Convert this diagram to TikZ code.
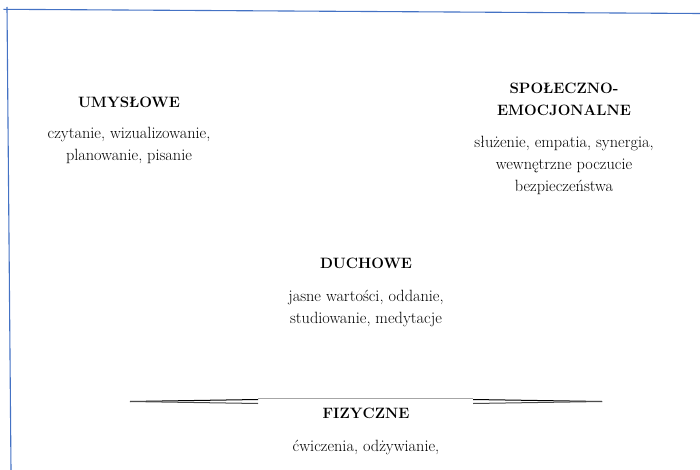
\documentclass[tikz,border=0pt]{standalone}
\usepackage{fontspec}
\definecolor{edgeblue}{HTML}{4472C4}
\tikzset{
  headtext/.style={align=center,inner sep=0pt,font=\fontsize{15}{22}\selectfont\bfseries},
  bodytext/.style={align=center,inner sep=0pt,font=\fontsize{16.3}{22}\selectfont},
}
\begin{document}
\begin{tikzpicture}[x=1pt,y=-1pt]
\useasboundingbox (0,0) rectangle (700,470);

% page edges
\draw[edgeblue,line width=1.1pt] (3.5,9.3) -- (700,13.5);
\draw[edgeblue,line width=1.1pt] (7,7) -- (11,470);

% the four areas
\node[headtext] (umyslowe) at (129,102) {UMYSŁOWE};
\node[bodytext] (umyslowebody) at (129,145) {czytanie, wizualizowanie,\\planowanie, pisanie};

\node[headtext] (spoleczne) at (564,99) {SPOŁECZNO-\\EMOCJONALNE};
\node[bodytext] (spolecznebody) at (564,165) {służenie, empatia, synergia,\\wewnętrzne poczucie\\bezpieczeństwa};

\node[headtext] (duchowe) at (366,263) {DUCHOWE};
\node[bodytext] (duchowebody) at (366,308) {jasne wartości, oddanie,\\studiowanie, medytacje};

\node[headtext] (fizyczne) at (366,413) {FIZYCZNE};
\node[bodytext] (fizycznebody) at (366,447) {ćwiczenia, odżywianie,};

% thin disc seen edge-on
\coordinate (ltip) at (130,401.5);
\coordinate (rtip) at (602,401.5);
\draw[black,line width=1pt] (ltip) -- (258,399.5);
\draw[black!70,line width=1pt] (ltip) -- (258,403.5);
\draw[black,line width=1pt] (rtip) -- (473,399.5);
\draw[black!70,line width=1pt] (rtip) -- (473,403.5);
\draw[black!35,line width=0.6pt] (258,398.5) -- (473,398.5);
\end{tikzpicture}
\end{document}
